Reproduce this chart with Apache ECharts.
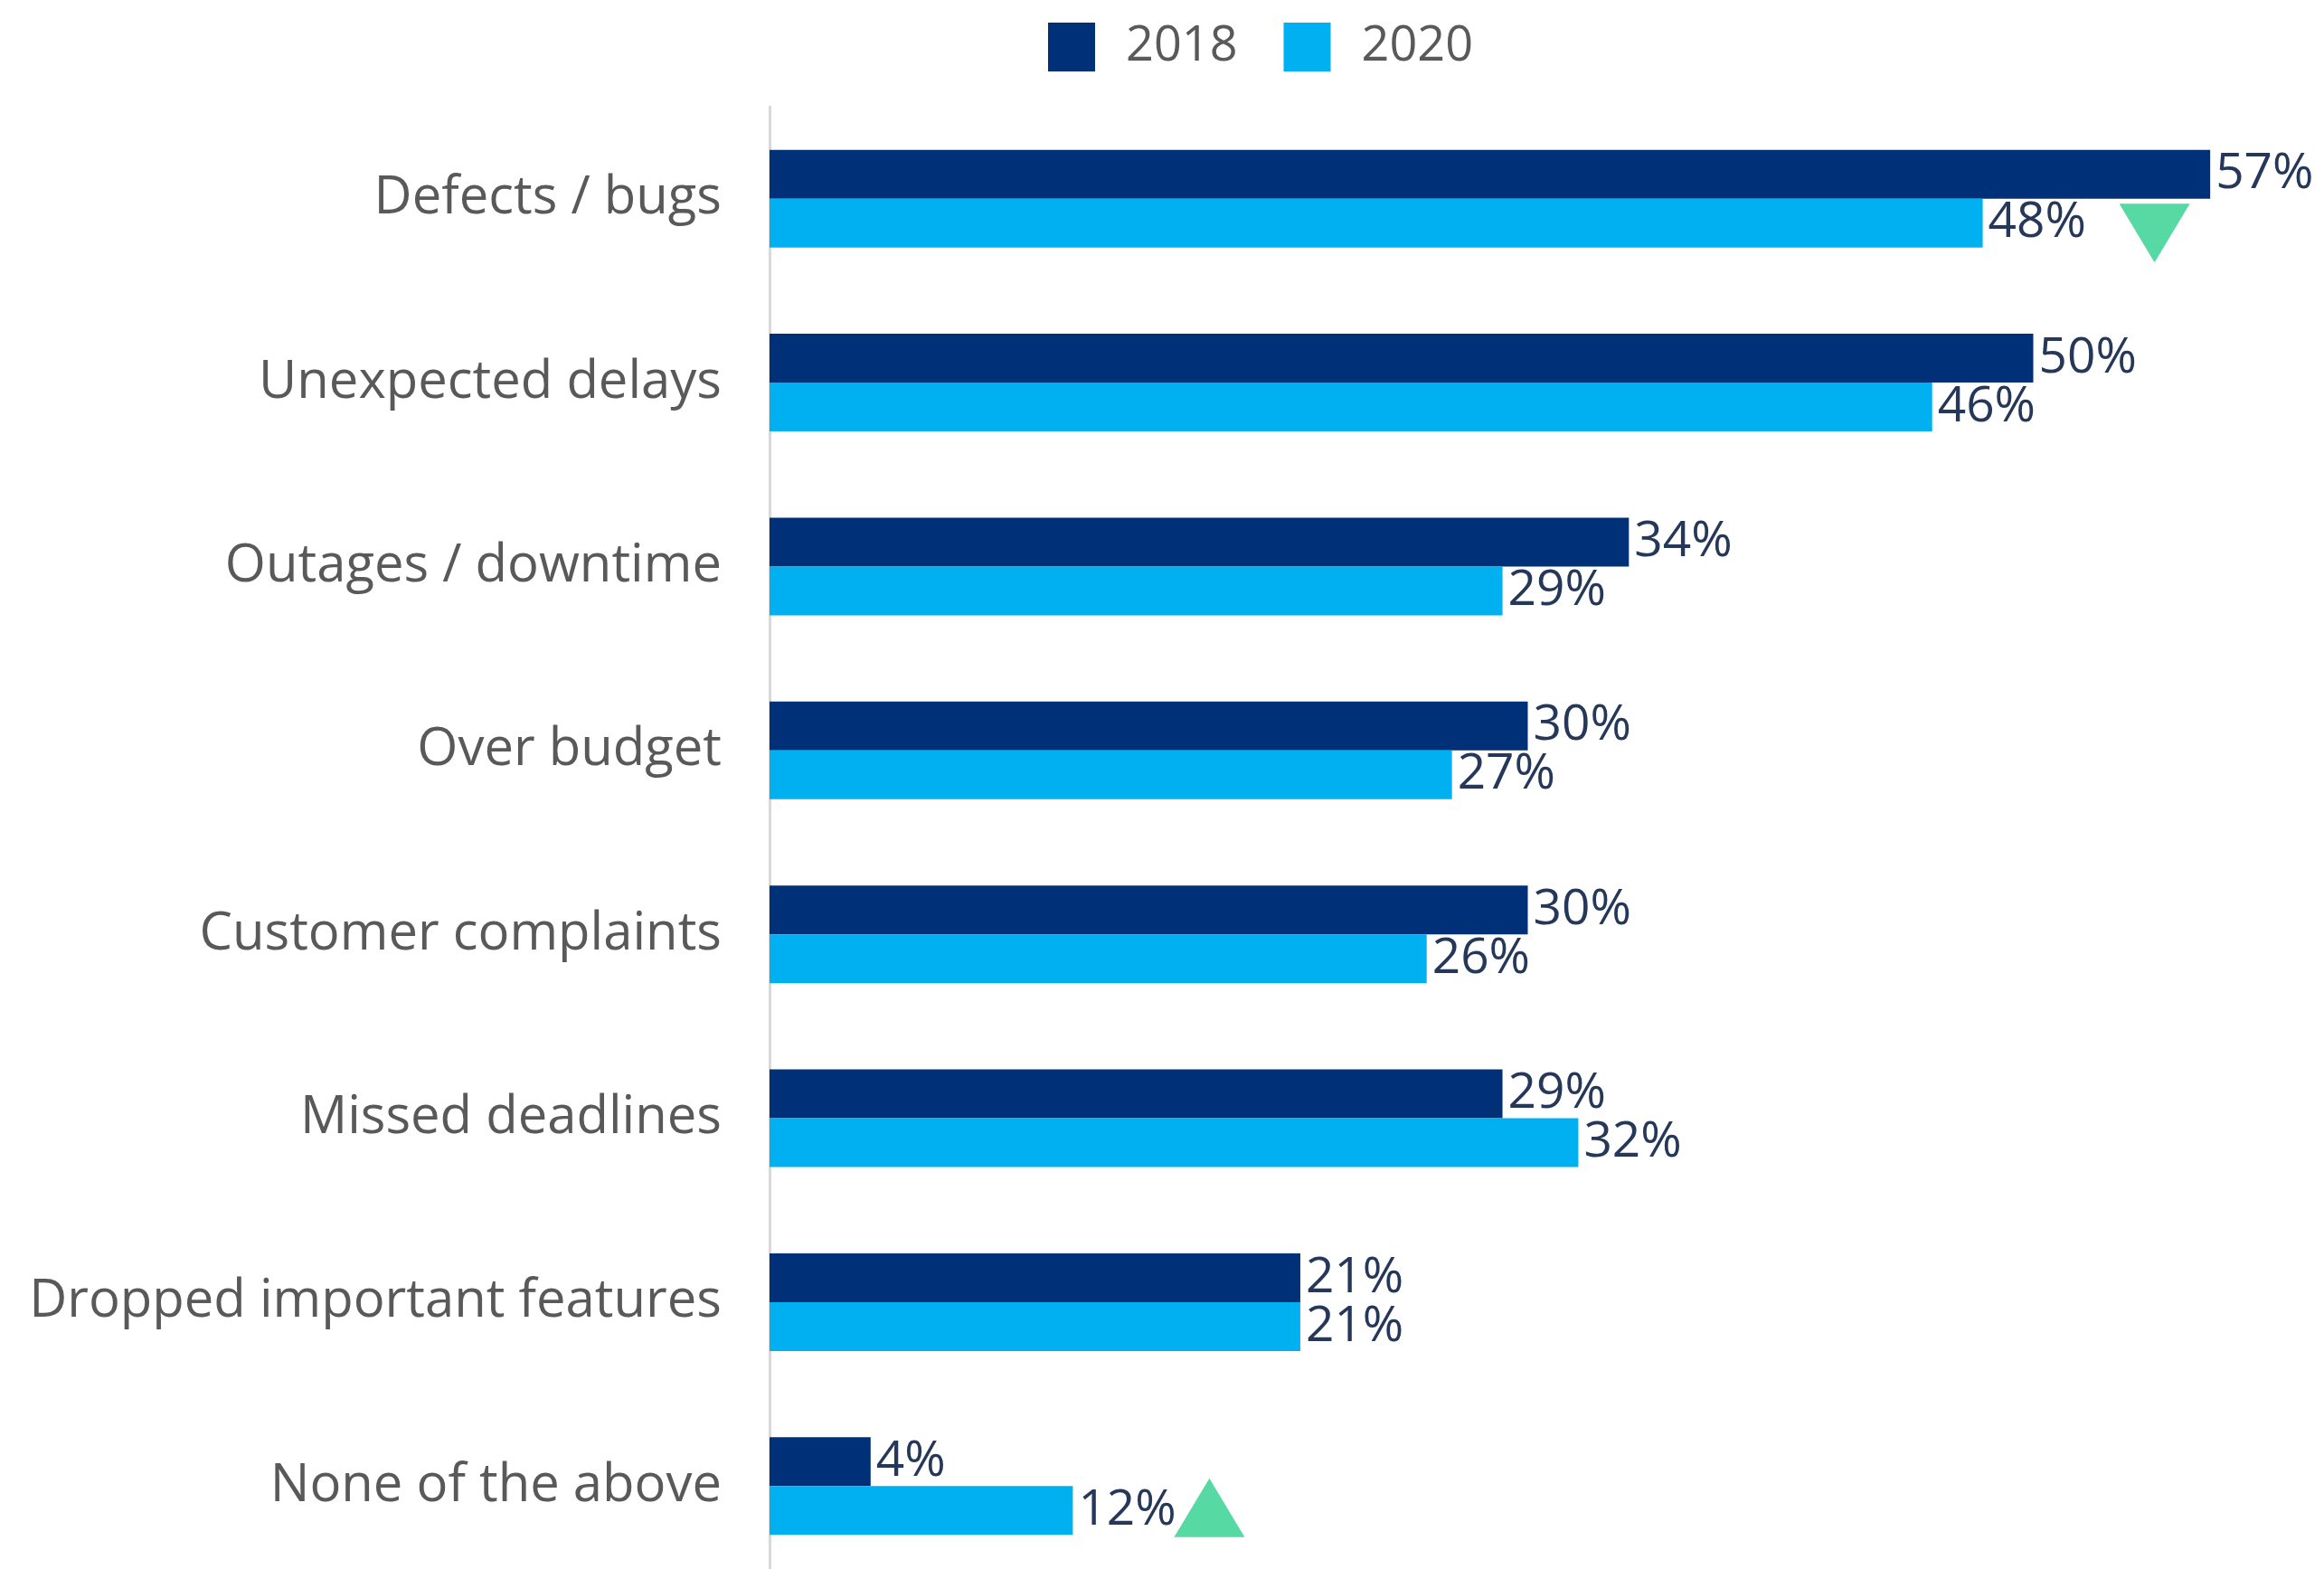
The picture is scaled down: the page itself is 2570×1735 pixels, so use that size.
<!DOCTYPE html>
<html>
<head>
<meta charset="utf-8">
<title>Project problems 2018 vs 2020</title>
<script src="https://cdn.jsdelivr.net/npm/echarts@6/dist/echarts.min.js"></script>
<style>
  html, body { margin: 0; padding: 0; background: #ffffff; }
  #chart { width: 2570px; height: 1735px; }
</style>
</head>
<body>
<div id="chart"></div>
<script>
// Reported problems, share of respondents (%)
const categories = [
  'Defects / bugs',
  'Unexpected delays',
  'Outages / downtime',
  'Over budget',
  'Customer complaints',
  'Missed deadlines',
  'Dropped important features',
  'None of the above'
];
const values2018 = [57, 50, 34, 30, 30, 29, 21, 4];
const values2020 = [48, 46, 29, 27, 26, 32, 21, 12];
const seriesNames = ['2018', '2020'];

// Notable shifts flagged with an arrow next to the 2020 bar
const shifts = [
  { category: 'Defects / bugs', dir: 'down' },
  { category: 'None of the above', dir: 'up' }
];

const COLOR_2018 = '#003078';
const COLOR_2020 = '#00B0F0';
const LABEL_DARK = '#26385A';
const TEXT_GREY = '#595959';
const FONT = '"Open Sans", "Noto Sans", sans-serif';

// pixel offset of each arrow from the end of its bar
const shiftOffsets = { down: [190, 11], up: [151, -3] };

const chart = echarts.init(document.getElementById('chart'), null, { renderer: 'canvas' });

const valueLabel = {
  show: true,
  position: 'right',
  distance: 6,
  formatter: '{c}%',
  color: LABEL_DARK,
  fontSize: 55,
  fontFamily: FONT
};

chart.setOption({
  backgroundColor: '#ffffff',
  animation: false,
  legend: {
    data: seriesNames,
    left: 1154,
    top: 20,
    itemWidth: 52,
    itemHeight: 54,
    itemGap: 51,
    icon: 'rect',
    textStyle: {
      color: TEXT_GREY,
      fontSize: 54,
      fontFamily: FONT,
      padding: [3, 0, 0, 29]
    }
  },
  grid: {
    left: 851,
    top: 118,
    width: 1677,
    height: 1627,
    containLabel: false,
    outerBoundsMode: 'none'
  },
  xAxis: {
    type: 'value',
    min: 0,
    max: 60,
    show: false
  },
  yAxis: {
    type: 'category',
    data: categories,
    inverse: true,
    axisLine: { show: true, lineStyle: { color: '#D9D9D9', width: 3 } },
    axisTick: { show: false },
    splitLine: { show: false },
    axisLabel: {
      color: TEXT_GREY,
      fontSize: 58,
      fontFamily: FONT,
      margin: 53
    }
  },
  series: [
    {
      name: seriesNames[0],
      type: 'bar',
      data: values2018,
      barWidth: 54,
      barGap: '0%',
      itemStyle: { color: COLOR_2018 },
      label: valueLabel
    },
    {
      name: seriesNames[1],
      type: 'bar',
      data: values2020,
      barWidth: 54,
      barGap: '0%',
      itemStyle: { color: COLOR_2020 },
      label: valueLabel,
      markPoint: {
        symbol: 'triangle',
        symbolSize: [78, 65],
        itemStyle: { color: '#57D9A3' },
        label: { show: false },
        data: shifts.map(s => ({
          coord: [values2020[categories.indexOf(s.category)], s.category],
          symbolRotate: s.dir === 'down' ? 180 : 0,
          symbolOffset: shiftOffsets[s.dir]
        }))
      }
    }
  ]
});
</script>
</body>
</html>
